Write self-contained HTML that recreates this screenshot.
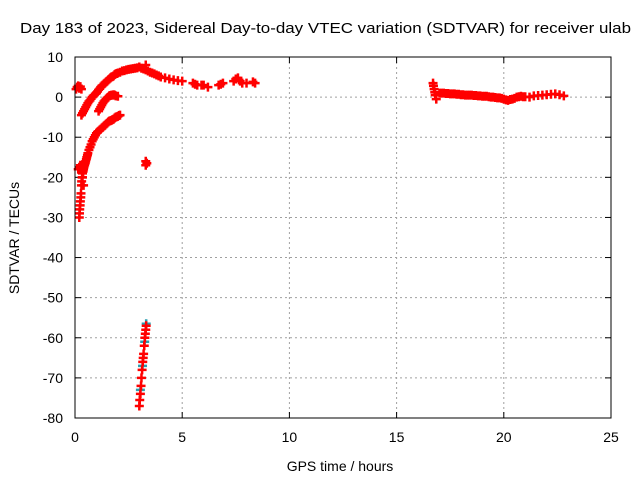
<!DOCTYPE html>
<html><head><meta charset="utf-8"><style>
body{margin:0;background:#fff}
text{font-family:"Liberation Sans",sans-serif;font-size:14px;fill:#000}
</style></head><body>
<svg id="c" width="640" height="480">
<rect width="640" height="480" fill="#fff"/>
<text x="20" y="33" textLength="611" lengthAdjust="spacingAndGlyphs" style="font-size:15px">Day 183 of 2023, Sidereal Day-to-day VTEC variation (SDTVAR) for receiver ulab</text>
<text x="340" y="471" text-anchor="middle">GPS time / hours</text>
<text transform="translate(19,238) rotate(-90)" text-anchor="middle">SDTVAR / TECUs</text>
<g id="grid"></g><g id="marks"></g>
<rect x="75" y="57" width="536" height="361" fill="none" stroke="#000"/>
</svg>
<script>
const xTicks=[0,5,10,15,20,25];
const yTicks=[10,0,-10,-20,-30,-40,-50,-60,-70,-80];
const redX=[0.05,0.1,0.15,0.2,0.25,0.3,
0.3,0.35,0.4,0.45,0.5,0.55,0.6,0.65,0.7,0.75,0.8,0.85,0.9,0.95,1.0,1.05,1.1,1.15,1.2,1.25,1.3,1.35,1.4,1.45,1.5,1.55,1.6,1.65,1.7,1.75,1.8,1.85,1.9,1.95,2.0,2.1,2.2,2.3,2.4,2.5,2.6,2.7,2.8,2.9,3.0,3.1,3.2,3.3,3.3,3.4,3.5,3.6,3.7,3.8,3.9,4.0,4.2,4.4,4.6,4.8,5.0,
1.1,1.15,1.2,1.25,1.3,1.35,1.4,1.45,1.5,1.55,1.6,1.65,1.7,1.75,1.8,1.85,1.9,2.0,
0.2,0.21,0.22,0.24,0.25,0.27,0.28,0.3,0.31,0.33,0.35,0.36,0.38,0.4,0.42,0.45,0.48,0.5,0.53,0.55,0.58,0.6,0.65,0.7,0.75,0.8,0.85,0.9,0.95,1.0,1.05,1.1,1.15,1.2,1.25,1.3,1.35,1.4,1.45,1.5,1.55,1.6,1.65,1.7,1.75,1.8,1.85,1.9,1.95,2.0,2.05,2.1,0.15,0.2,0.25,0.3,0.35,0.4,
3.3,3.35,3.3,
3.0,3.02,3.05,3.08,3.1,3.13,3.16,3.18,3.2,3.23,3.26,3.28,3.3,3.32,
5.5,5.6,5.7,5.9,6.0,6.2,6.7,6.8,6.9,7.4,7.5,7.6,7.7,7.8,8.0,8.3,8.4,
16.7,16.72,16.75,16.78,16.8,16.85,17.0,17.1,17.2,17.3,17.4,17.5,17.6,17.7,17.8,17.9,18.0,18.1,18.2,18.3,18.4,18.5,18.6,18.7,18.8,18.9,19.0,19.1,19.2,19.3,19.4,19.5,19.6,19.7,19.8,19.9,20.0,20.1,20.2,20.3,20.4,20.5,20.6,20.7,20.8,20.9,21.0,21.2,21.4,21.6,21.8,22.0,22.2,22.4,22.6,22.8];
const redY=[2,2.5,2.8,2.2,2.6,2,
-4.5,-4,-3.5,-3,-2.5,-2,-1.5,-1.1,-0.8,-0.4,0,0.3,0.5,0.8,1,1.4,1.8,2.1,2.5,2.8,3,3.3,3.5,3.8,4,4.3,4.5,4.8,5,5.1,5.3,5.6,5.8,5.9,6,6.2,6.5,6.6,6.8,6.9,7,7.1,7.2,7.3,7.5,7.2,7,8,6.8,6.5,6.2,6,5.8,5.5,5.3,5,4.8,4.5,4.3,4.1,4,
-3.5,-3,-2.5,-2,-1.5,-1.1,-0.8,-0.5,-0.2,0,0.3,0.4,0.5,0.5,0.6,0.5,0.3,0.2,
-30,-29,-28,-27,-26,-25,-24,-22,-21,-20,-19,-18.5,-18.5,-18,-17.5,-17,-16.5,-16,-15.5,-15,-14.5,-14,-13.2,-12.5,-11.8,-11,-10.5,-10,-9.5,-9,-8.7,-8.5,-8.2,-8,-7.7,-7.5,-7.2,-7,-6.7,-6.5,-6.2,-6,-5.9,-5.8,-5.6,-5.5,-5.2,-5,-4.9,-4.8,-4.6,-4.5,-18,-17.5,-17,-18,-20,-22,
-17,-16.5,-16,
-77,-75.5,-74,-72,-70,-68,-66,-65,-64,-62,-60,-59,-58,-57,
3.5,3.2,3,3,3,2.5,3,3.2,3.5,4,4.5,4.8,4,3.5,3.5,3.8,3.5,
3.5,2.8,2,1.2,0.5,-0.5,1,1,1,0.9,0.9,0.8,0.8,0.8,0.7,0.7,0.6,0.6,0.5,0.5,0.5,0.5,0.4,0.4,0.3,0.3,0.2,0.2,0.2,0.1,0,0,-0.1,-0.2,-0.2,-0.3,-0.5,-0.7,-0.8,-0.6,-0.5,-0.3,0,0.1,0.2,0.1,0.1,0,0.3,0.4,0.5,0.6,0.7,0.8,0.6,0.3];
const tealX=[3.05,3.15,3.25,3.32];
const tealY=[-73,-67,-61,-56.5];
const sx=v=>75+(v-0)*536/25;
const sy=v=>57+(10-v)*361/90;
const NS='http://www.w3.org/2000/svg';
const g=document.getElementById('grid'),m=document.getElementById('marks');
function mk(t,a,p){const e=document.createElementNS(NS,t);for(const k in a)e.setAttribute(k,a[k]);p.appendChild(e);return e;}
xTicks.forEach(v=>{const x=sx(v);
 if(v>0&&v<25){const l=mk('line',{x1:x,x2:x,y1:57,y2:418,stroke:'#a0a0a0','stroke-dasharray':'2,3'},g);
 
 }
 mk('line',{x1:x,x2:x,y1:418,y2:412,stroke:'#000'},g);mk('line',{x1:x,x2:x,y1:57,y2:63,stroke:'#000'},g);
 const t=mk('text',{x:x,y:442,'text-anchor':'middle'},g);t.textContent=v;
 
 });
yTicks.forEach(v=>{const y=sy(v);
 if(v<10&&v>-80){const l=mk('line',{x1:75,x2:611,y1:y,y2:y,stroke:'#a0a0a0','stroke-dasharray':'2,3'},g);
 
 }
 mk('line',{x1:75,x2:81,y1:y,y2:y,stroke:'#000'},g);mk('line',{x1:611,x2:605,y1:y,y2:y,stroke:'#000'},g);
 const t=mk('text',{x:63,y:y+5,'text-anchor':'end'},g);t.textContent=v;
 
 });
function plus(xs,ys,col,name){xs.forEach((v,i)=>{const x=sx(v),y=sy(ys[i]);
 const p=mk('path',{d:`M${x-4.5},${y}h9M${x},${y-4.5}v9`,stroke:col,'stroke-width':2.5,fill:'none'},m);
 
 });}
plus(tealX,tealY,'#2a9db0','teal-point');
plus(redX,redY,'#ff0000','sdtvar-point');
</script>
</body></html>
